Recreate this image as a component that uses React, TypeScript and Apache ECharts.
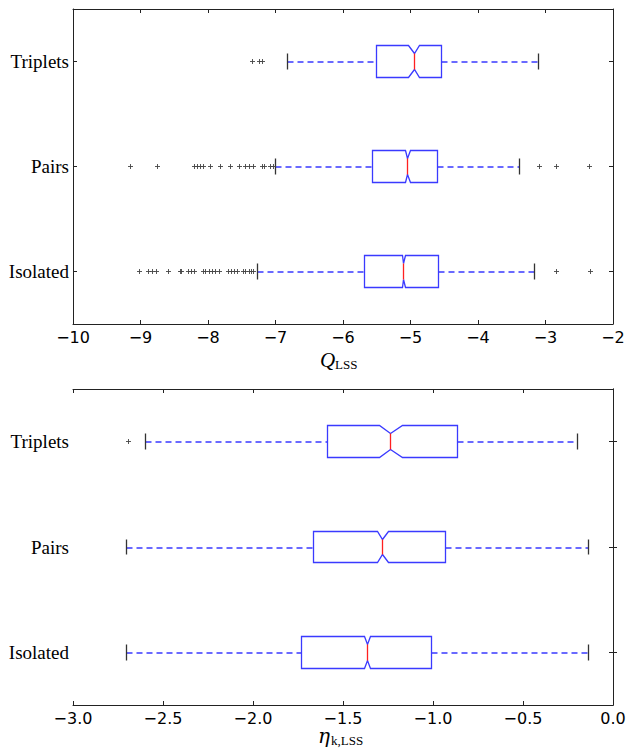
import React, { useEffect, useRef } from "react";
import * as echarts from "echarts";

// positions 1..3 from bottom
const categories = ["Isolated", "Pairs", "Triplets"];

// Q_LSS box statistics (Isolated, Pairs, Triplets)
const qWhiskerLow = [-7.27, -7.0, -6.82];
const qQ1 = [-5.68, -5.56, -5.51];
const qNotchLow = [-5.12, -5.08, -5.03];
const qMedian = [-5.1, -5.04, -4.94];
const qNotchHigh = [-5.08, -5.0, -4.86];
const qQ3 = [-4.59, -4.6, -4.54];
const qWhiskerHigh = [-3.17, -3.39, -3.1];

const qOutliersIsolated = [
  -9.02, -8.88, -8.82, -8.76, -8.59, -8.41, -8.4, -8.29, -8.25, -8.2, -8.07,
  -8.03, -7.98, -7.94, -7.89, -7.83, -7.69, -7.65, -7.61, -7.57, -7.48, -7.45,
  -7.38, -7.35, -7.32, -2.84, -2.33,
];
const qOutliersPairs = [
  -9.15, -8.75, -8.2, -8.16, -8.11, -8.06, -7.96, -7.82, -7.67, -7.53, -7.44,
  -7.39, -7.33, -7.2, -7.17, -7.08, -7.03, -3.09, -2.83, -2.35,
];
const qOutliersTriplets = [-7.34, -7.23, -7.2];

// eta_k,LSS box statistics (Isolated, Pairs, Triplets)
const eWhiskerLow = [-2.7, -2.7, -2.6];
const eQ1 = [-1.73, -1.666, -1.586];
const eNotchLow = [-1.38, -1.31, -1.3];
const eMedian = [-1.363, -1.278, -1.238];
const eNotchHigh = [-1.347, -1.245, -1.17];
const eQ3 = [-1.01, -0.93, -0.863];
const eWhiskerHigh = [-0.138, -0.138, -0.2];

const eOutliersIsolated: number[] = [];
const eOutliersPairs: number[] = [];
const eOutliersTriplets = [-2.69];

const qTicks = [-10, -9, -8, -7, -6, -5, -4, -3, -2];
const eTicks = [-3.0, -2.5, -2.0, -1.5, -1.0, -0.5, 0.0];

const BOX_HALF = 0.15;
const WAIST_HALF = 0.075;
const CAP_HALF = 0.075;
const BLUE = "#3a3aff";

function buildBoxData(
  wlo: number[], q1: number[], nlo: number[], med: number[], nhi: number[], q3: number[], whi: number[]
) {
  return categories.map((_, i) => [i + 1, wlo[i], q1[i], nlo[i], med[i], nhi[i], q3[i], whi[i]]);
}

function buildOutlierData(lists: number[][]) {
  const out: number[][] = [];
  lists.forEach((arr, i) => arr.forEach((v) => out.push([v, i + 1])));
  return out;
}

const snap = (v: number) => Math.round(v - 0.5) + 0.5;

function renderBox(params: any, api: any) {
  const pos = api.value(0);
  const wlo = api.value(1);
  const q1 = api.value(2);
  const nlo = api.value(3);
  const med = api.value(4);
  const nhi = api.value(5);
  const q3 = api.value(6);
  const whi = api.value(7);
  const c = (v: number, dy: number) => {
    const p = api.coord([v, pos + dy]);
    return [snap(p[0]), snap(p[1])];
  };
  const pts = [
    c(q1, -BOX_HALF), c(nlo, -BOX_HALF), c(med, -WAIST_HALF), c(nhi, -BOX_HALF), c(q3, -BOX_HALF),
    c(q3, BOX_HALF), c(nhi, BOX_HALF), c(med, WAIST_HALF), c(nlo, BOX_HALF), c(q1, BOX_HALF),
  ];
  const line = (a: number[], b: number[], stroke: string, dash?: number[], w = 1) => ({
    type: "line",
    shape: { x1: a[0], y1: a[1], x2: b[0], y2: b[1] },
    style: { stroke, lineWidth: w, lineDash: dash || null, fill: null },
  });
  const mid = c(0, 0)[1];
  const wy = Math.round(mid);
  const lo = c(wlo, 0)[0];
  const q1x = c(q1, 0)[0];
  const q3x = c(q3, 0)[0];
  const hi = c(whi, 0)[0];
  return {
    type: "group",
    children: [
      line([lo, wy], [q1x, wy], BLUE, [6, 4], 1.6),
      line([q3x, wy], [hi, wy], BLUE, [6, 4], 1.6),
      line(c(wlo, -CAP_HALF), c(wlo, CAP_HALF), "#333", undefined, 1.3),
      line(c(whi, -CAP_HALF), c(whi, CAP_HALF), "#333", undefined, 1.3),
      {
        type: "polygon",
        shape: { points: pts },
        style: { stroke: BLUE, fill: "#fff", lineWidth: 1.3 },
      },
      line(c(med, -WAIST_HALF), c(med, WAIST_HALF), "#ff2020", undefined, 1.3),
    ],
  };
}

function renderPlus(params: any, api: any) {
  const p0 = api.coord([api.value(0), api.value(1)]);
  const p = [snap(p0[0]), snap(p0[1])];
  const h = 2.5;
  return {
    type: "group",
    children: [
      { type: "line", shape: { x1: p[0] - h, y1: p[1], x2: p[0] + h, y2: p[1] }, style: { stroke: "#444", lineWidth: 0.9 } },
      { type: "line", shape: { x1: p[0], y1: p[1] - h, x2: p[0], y2: p[1] + h }, style: { stroke: "#444", lineWidth: 0.9 } },
    ],
  };
}

const minusFmt = (digits: number) => (v: number) => {
  const s = Math.abs(v).toFixed(digits);
  return v < 0 ? "\u2212" + s : s;
};

export default function App() {
  const ref = useRef<HTMLDivElement>(null);
  useEffect(() => {
    if (!ref.current) return;
    const chart = echarts.init(ref.current, undefined, { renderer: "svg" });

    const grids = [
      { left: 73, top: 9, width: 540, height: 315 },
      { left: 73, top: 389, width: 540, height: 316 },
    ];
    const tickFont = { fontFamily: '"DejaVu Sans"', fontSize: 16, color: "#000" };
    const axLine = { show: true, lineStyle: { color: "#222", width: 1 } };
    const xAxisBase = (gi: number, min: number, max: number, interval: number, digits: number, ticks: number[]) => [
      {
        gridIndex: gi, type: "value", position: "bottom", min, max, interval,
        axisLine: axLine, splitLine: { show: false },
        axisTick: { show: true, inside: true, length: 4, lineStyle: { color: "#222" }, customValues: ticks },
        axisLabel: { ...tickFont, margin: 5, formatter: minusFmt(digits), showMinLabel: true, showMaxLabel: true, hideOverlap: false, customValues: ticks },
      },
      {
        gridIndex: gi, type: "value", position: "top", min, max, interval,
        axisLine: axLine, splitLine: { show: false },
        axisTick: { show: true, inside: true, length: 4, lineStyle: { color: "#222" }, customValues: ticks },
        axisLabel: { show: false },
      },
    ];
    const yAxisBase = (gi: number) => [
      {
        gridIndex: gi, type: "value", position: "left", min: 0.5, max: 3.5,
        axisLine: axLine, splitLine: { show: false },
        axisTick: { show: true, inside: true, length: 4, lineStyle: { color: "#222" }, customValues: [1, 2, 3] },
        axisLabel: {
          customValues: [1, 2, 3], margin: 4, color: "#000", fontFamily: '"Liberation Serif", serif', fontSize: 19,
          formatter: (v: number) => categories[Math.round(v) - 1] || "",
        },
      },
      {
        gridIndex: gi, type: "value", position: "right", min: 0.5, max: 3.5,
        axisLine: axLine, splitLine: { show: false },
        axisTick: { show: true, inside: true, length: 4, lineStyle: { color: "#222" }, customValues: [1, 2, 3] },
        axisLabel: { show: false },
      },
    ];

    const dims = { x: [1, 2, 3, 4, 5, 6, 7], y: 0 };

    chart.setOption({
      animation: false,
      backgroundColor: "#fff",
      grid: grids,
      xAxis: [...xAxisBase(0, -10, -2, 1, 0, qTicks), ...xAxisBase(1, -3, 0, 0.5, 1, eTicks)],
      yAxis: [...yAxisBase(0), ...yAxisBase(1)],
      series: [
        {
          type: "custom", xAxisIndex: 0, yAxisIndex: 0, renderItem: renderBox, encode: dims,
          data: buildBoxData(qWhiskerLow, qQ1, qNotchLow, qMedian, qNotchHigh, qQ3, qWhiskerHigh),
          clip: false,
        },
        {
          type: "custom", xAxisIndex: 0, yAxisIndex: 0, renderItem: renderPlus, encode: { x: 0, y: 1 },
          data: buildOutlierData([qOutliersIsolated, qOutliersPairs, qOutliersTriplets]),
        },
        {
          type: "custom", xAxisIndex: 2, yAxisIndex: 2, renderItem: renderBox, encode: dims,
          data: buildBoxData(eWhiskerLow, eQ1, eNotchLow, eMedian, eNotchHigh, eQ3, eWhiskerHigh),
          clip: false,
        },
        {
          type: "custom", xAxisIndex: 2, yAxisIndex: 2, renderItem: renderPlus, encode: { x: 0, y: 1 },
          data: buildOutlierData([eOutliersIsolated, eOutliersPairs, eOutliersTriplets]),
        },
      ],
      graphic: [
        { type: "text", x: 320, y: 360, style: { text: "Q", font: 'italic 21px "Liberation Serif"', fill: "#000", verticalAlign: "middle", align: "left" } },
        { type: "text", x: 335, y: 364, style: { text: "LSS", font: '13px "Liberation Serif"', fill: "#000", verticalAlign: "middle", align: "left" } },
        { type: "text", x: 318, y: 736, style: { text: "η", font: 'italic 20px "DejaVu Serif"', fill: "#000", verticalAlign: "middle", align: "left" } },
        { type: "text", x: 331, y: 740, style: { text: "k,LSS", font: '13px "Liberation Serif"', fill: "#000", verticalAlign: "middle", align: "left" } },
      ],
    });
    return () => chart.dispose();
  }, []);
  return (
    <div
      ref={ref}
      style={{ position: "absolute", left: 0, top: 0, width: 629, height: 749, background: "#fff" }}
    />
  );
}
